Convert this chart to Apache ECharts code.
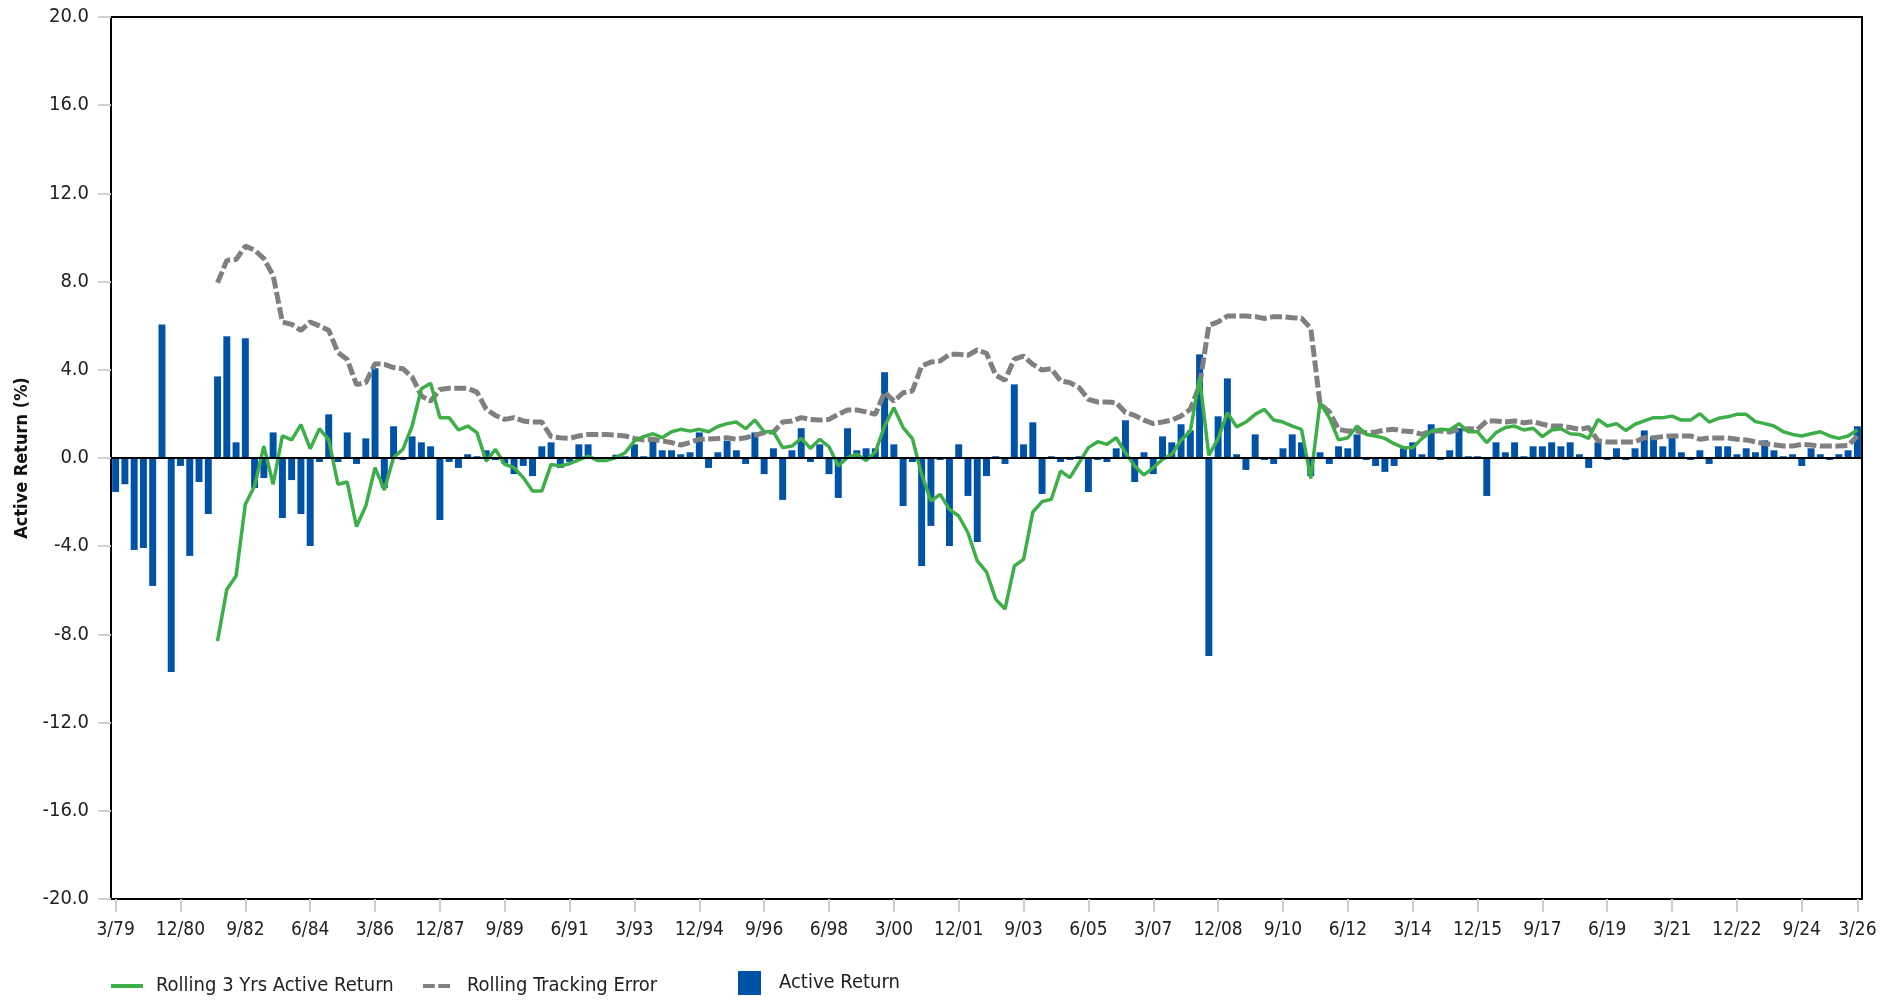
<!DOCTYPE html>
<html>
<head>
<meta charset="utf-8">
<title>Active Return</title>
<script src="https://cdn.jsdelivr.net/npm/echarts@6/dist/echarts.min.js"></script>
<style>
  html, body { margin: 0; padding: 0; background: #fff; }
  #chart { width: 1898px; height: 1000px; }
</style>
</head>
<body>
<div id="chart"></div>
<script>
// Quarterly periods, 3/79 through 3/26
const startYear = 1979;
const quarterCount = 189;
const categories = [];
for (let i = 0; i < quarterCount; i++) {
  const y = startYear + Math.floor(i / 4);
  const m = [3, 6, 9, 12][i % 4];
  categories.push(m + '/' + String(y % 100).padStart(2, '0'));
}

// Axis tick labels shown along the bottom
const tickLabels = ['3/79','12/80','9/82','6/84','3/86','12/87','9/89','6/91','3/93','12/94',
  '9/96','6/98','3/00','12/01','9/03','6/05','3/07','12/08','9/10','6/12','3/14','12/15',
  '9/17','6/19','3/21','12/22','9/24','3/26'];

// Quarterly active return (%)
const activeReturn = [
  -1.54,-1.19,-4.17,-4.08,-5.80,6.05,-9.70,-0.36,-4.44,-1.09,
  -2.54,3.70,5.52,0.71,5.43,-1.36,-0.91,1.16,-2.72,-1.00,
  -2.54,-3.99,-0.18,1.98,-0.18,1.16,-0.27,0.89,4.07,-1.36,
  1.44,-0.09,0.98,0.71,0.53,-2.81,-0.18,-0.45,0.17,0.08,
  0.35,-0.09,-0.25,-0.73,-0.36,-0.82,0.53,0.71,-0.45,-0.18,
  0.62,0.62,0.00,0.00,0.15,0.08,0.62,0.08,0.85,0.35,
  0.35,0.17,0.26,1.16,-0.45,0.26,0.78,0.35,-0.27,1.16,
  -0.73,0.44,-1.90,0.35,1.35,-0.18,0.62,-0.73,-1.81,1.35,
  0.35,0.44,0.44,3.89,0.62,-2.18,-0.18,-4.90,-3.08,-0.09,
  -3.99,0.62,-1.72,-3.81,-0.82,0.08,-0.27,3.34,0.62,1.62,
  -1.63,0.08,-0.18,-0.09,0.08,-1.54,-0.09,-0.18,0.44,1.71,
  -1.09,0.26,-0.73,0.98,0.71,1.53,1.25,4.70,-8.98,1.89,
  3.61,0.17,-0.54,1.07,-0.09,-0.27,0.44,1.07,0.71,-0.82,
  0.26,-0.27,0.53,0.44,1.07,-0.09,-0.36,-0.63,-0.36,0.44,
  0.71,0.17,1.53,-0.09,0.35,1.35,0.08,0.08,-1.72,0.71,
  0.26,0.71,0.08,0.53,0.53,0.71,0.53,0.71,0.17,-0.45,
  0.71,-0.09,0.44,-0.09,0.44,1.25,0.98,0.53,0.98,0.26,
  -0.09,0.35,-0.27,0.53,0.53,0.17,0.44,0.26,0.80,0.35,
  0.08,0.17,-0.36,0.44,0.17,-0.09,0.17,0.35,1.44
];

// Rolling 3-year tracking error (%), first value at 12/81
const trackingError = [
  null,null,null,null,null,null,null,null,null,null,
  null,7.95,8.96,9.00,9.61,9.43,9.04,8.28,6.17,6.06,
  5.79,6.17,5.99,5.79,4.78,4.47,3.33,3.42,4.28,4.25,
  4.10,4.05,3.68,2.81,2.58,3.11,3.16,3.16,3.16,2.99,
  2.21,1.93,1.75,1.83,1.68,1.63,1.63,0.97,0.92,0.89,
  1.00,1.07,1.07,1.07,1.04,1.00,0.89,0.82,0.85,0.77,
  0.70,0.59,0.70,0.85,0.86,0.88,0.92,0.85,0.92,1.03,
  1.15,1.18,1.63,1.68,1.83,1.75,1.72,1.75,1.98,2.18,
  2.18,2.09,1.98,2.99,2.58,2.96,3.04,4.17,4.35,4.40,
  4.70,4.70,4.66,4.90,4.75,3.75,3.53,4.48,4.62,4.25,
  3.99,4.05,3.49,3.42,3.19,2.66,2.54,2.54,2.51,2.06,
  1.93,1.72,1.56,1.63,1.72,1.90,2.21,3.30,6.02,6.17,
  6.44,6.44,6.44,6.41,6.33,6.41,6.41,6.36,6.34,5.88,
  2.45,2.10,1.30,1.22,1.22,1.15,1.18,1.27,1.30,1.22,
  1.19,1.07,1.22,1.22,1.18,1.30,1.33,1.30,1.68,1.68,
  1.63,1.68,1.60,1.65,1.53,1.45,1.45,1.38,1.30,1.38,
  0.78,0.73,0.73,0.73,0.73,0.92,0.92,0.97,1.00,1.00,
  1.00,0.85,0.91,0.91,0.91,0.85,0.82,0.73,0.65,0.60,
  0.54,0.54,0.62,0.59,0.54,0.54,0.54,0.57,1.00
];

// Rolling 3-year annualised active return (%), first value at 12/81
const rolling3yActive = [
  null,null,null,null,null,null,null,null,null,null,
  null,-8.30,-5.96,-5.35,-2.10,-1.27,0.54,-1.19,1.00,0.82,
  1.51,0.42,1.33,0.82,-1.19,-1.09,-3.11,-2.18,-0.44,-1.45,
  0.02,0.39,1.45,3.14,3.39,1.83,1.83,1.27,1.45,1.15,
  -0.14,0.39,-0.29,-0.44,-0.89,-1.50,-1.50,-0.29,-0.36,-0.26,
  -0.09,0.09,-0.11,-0.11,0.02,0.24,0.77,0.97,1.10,0.92,
  1.19,1.30,1.22,1.30,1.19,1.43,1.56,1.63,1.33,1.72,
  1.19,1.19,0.47,0.54,0.89,0.44,0.85,0.51,-0.36,0.02,
  0.17,-0.11,0.27,1.45,2.28,1.38,0.88,-0.74,-1.95,-1.65,
  -2.33,-2.63,-3.39,-4.67,-5.17,-6.41,-6.85,-4.90,-4.60,-2.45,
  -1.98,-1.87,-0.59,-0.89,-0.21,0.47,0.74,0.62,0.92,0.24,
  -0.36,-0.77,-0.44,-0.06,0.17,0.80,1.22,3.64,0.12,0.88,
  2.06,1.41,1.63,1.98,2.21,1.72,1.63,1.45,1.30,-0.93,
  2.51,1.83,0.82,0.92,1.45,1.07,1.00,0.89,0.65,0.47,
  0.47,0.88,1.22,1.30,1.27,1.56,1.19,1.19,0.70,1.15,
  1.38,1.45,1.27,1.35,0.97,1.27,1.33,1.10,1.07,0.89,
  1.75,1.45,1.56,1.25,1.53,1.68,1.83,1.83,1.90,1.72,
  1.72,2.01,1.63,1.80,1.87,1.98,1.98,1.65,1.56,1.45,
  1.19,1.07,1.00,1.10,1.19,1.00,0.89,1.00,1.27
];

const NARROW = "'Liberation Sans Narrow', 'Arial Narrow', 'DejaVu Sans Condensed', sans-serif";
const TEXT = '#222';
const GREEN = '#3DAE48';
const GREY = '#808080';
const BLUE = '#0052A6';

const showTick = function (idx) {
  return tickLabels.indexOf(categories[idx]) !== -1;
};

const legendText = function (pad) {
  return { fontFamily: NARROW, fontSize: 20, color: TEXT, padding: [0, 0, 0, pad] };
};

const chart = echarts.init(document.getElementById('chart'), null, { renderer: 'canvas' });

chart.setOption({
  animation: false,
  backgroundColor: '#fff',
  grid: {
    left: 111, right: 36, top: 17, bottom: 101,
    show: true, borderColor: '#000', borderWidth: 2, backgroundColor: 'transparent'
  },
  legend: [
    {
      data: [{ name: 'Rolling 3 Yrs Active Return', icon: 'rect' }],
      left: 111, top: 976, padding: 0, itemWidth: 32, itemHeight: 4,
      textStyle: legendText(8)
    },
    {
      data: [{ name: 'Rolling Tracking Error', icon: 'path://M0,0H12V4H0Z M15.5,0H27.5V4H15.5Z' }],
      left: 423, top: 976, padding: 0, itemWidth: 27, itemHeight: 4,
      textStyle: legendText(12)
    },
    {
      data: [{ name: 'Active Return', icon: 'rect' }],
      left: 738, top: 971, padding: 0, itemWidth: 23, itemHeight: 24,
      textStyle: legendText(13)
    }
  ],
  xAxis: {
    type: 'category',
    data: categories,
    boundaryGap: true,
    axisLine: { show: false, onZero: false },
    axisTick: {
      show: true, alignWithLabel: true, length: 13, interval: showTick,
      lineStyle: { color: '#cfcfcf', width: 2 }
    },
    axisLabel: {
      interval: showTick, margin: 22,
      fontFamily: NARROW, fontSize: 19, color: TEXT
    },
    splitLine: { show: false }
  },
  yAxis: {
    type: 'value',
    min: -20, max: 20, interval: 4,
    name: 'Active Return (%)',
    nameLocation: 'middle',
    nameRotate: 90,
    nameGap: 80,
    nameTextStyle: { fontFamily: NARROW, fontSize: 18, fontWeight: 'bold', color: '#111' },
    axisLine: { show: false },
    axisTick: { show: true, length: 13, lineStyle: { color: '#cfcfcf', width: 2 } },
    axisLabel: {
      margin: 22, fontFamily: NARROW, fontSize: 20, color: TEXT,
      formatter: function (v) { return v.toFixed(1); }
    },
    splitLine: { show: false }
  },
  series: [
    {
      name: 'Active Return',
      type: 'bar',
      data: activeReturn,
      barCategoryGap: '25%',
      itemStyle: { color: BLUE },
      z: 2,
      markLine: {
        silent: true,
        symbol: ['none', 'none'],
        label: { show: false },
        lineStyle: { color: '#000', width: 2, type: 'solid' },
        data: [{ yAxis: 0 }]
      }
    },
    {
      name: 'Rolling Tracking Error',
      type: 'line',
      data: trackingError,
      symbol: 'none',
      lineStyle: { color: GREY, width: 5, type: [12, 3.5] },
      itemStyle: { color: GREY },
      z: 3
    },
    {
      name: 'Rolling 3 Yrs Active Return',
      type: 'line',
      data: rolling3yActive,
      symbol: 'none',
      lineStyle: { color: GREEN, width: 3.5 },
      itemStyle: { color: GREEN },
      z: 4
    }
  ]
});
</script>
</body>
</html>
